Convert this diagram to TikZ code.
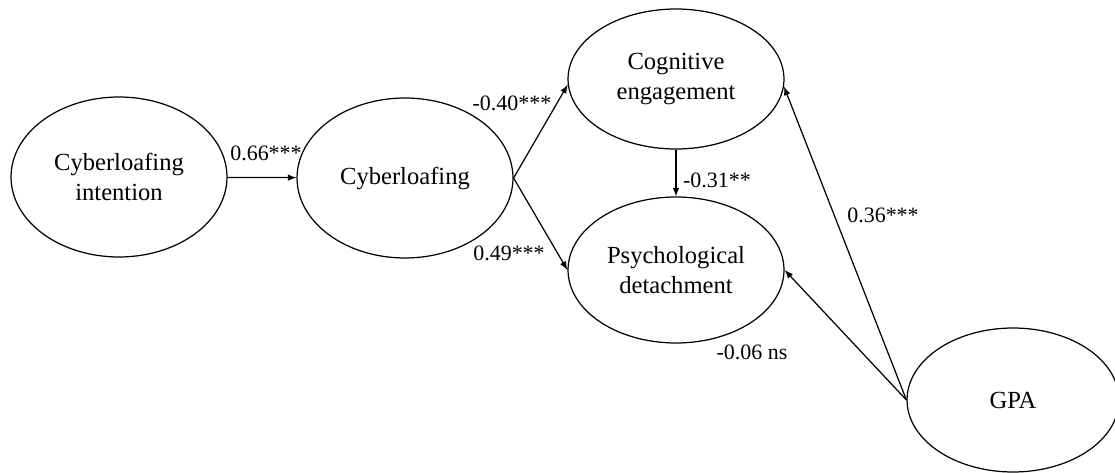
\documentclass[tikz,border=0pt]{standalone}
\usepackage{fontspec}
\setmainfont{Liberation Serif}
\usetikzlibrary{shapes.geometric}

\begin{document}
\begin{tikzpicture}
    [
    x=0.02cm, y=-0.02cm,
    latent/.style={ellipse,draw,line width=0.7pt,inner sep=0pt,minimum width=4.32cm,minimum height=3.2cm,align=center,font=\fontsize{14}{17}\selectfont},
    coef/.style={inner sep=0pt,font=\fontsize{12.5}{14}\selectfont},
    effect/.style={-latex,line width=0.7pt}
    ]
    \useasboundingbox (0,0) rectangle (1115,473);
    \node (intent) at (119,177) [latent] {Cyberloafing\\intention};
    \node (loaf) at (405,178) [latent] {Cyberloafing};
    \node (cog) at (676,79) [latent,minimum height=2.8cm] {Cognitive\\engagement};
    \node (detach) at (676,270) [latent,minimum height=2.92cm] {Psychological\\detachment};
    \node (gpa) at (1013,400) [latent,minimum width=4.24cm,minimum height=2.88cm] {GPA};
    \draw [effect] (intent) to (loaf);
    \draw [effect] (loaf.east) to (cog.183);
    \draw [effect] (loaf.east) to (detach.west);
    \draw [effect] (cog) to (detach);
    \draw [effect] (gpa.west) to (cog.-4);
    \draw [effect] (gpa.west) to (detach.east);
    \node (c1) at (266,153) [coef] {0.66***};
    \node (c2) at (512,103) [coef] {-0.40***};
    \node (c3) at (509,253) [coef] {0.49***};
    \node (c4) at (717,180) [coef] {-0.31**};
    \node (c5) at (883,215) [coef] {0.36***};
    \node (c6) at (752,352) [coef] {-0.06 ns};
  \end{tikzpicture}
\end{document}
